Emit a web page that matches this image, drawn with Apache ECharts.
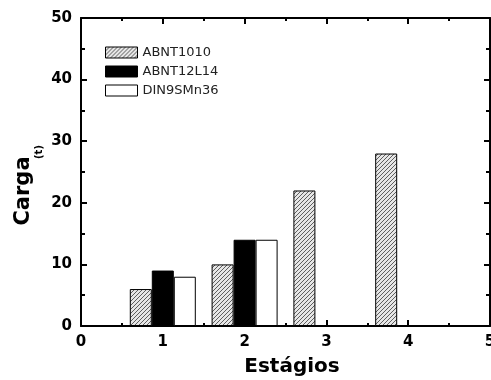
<!DOCTYPE html>
<html>
<head>
<meta charset="utf-8">
<script src="https://cdn.jsdelivr.net/npm/echarts@6/dist/echarts.min.js"></script>
<style>
html,body{margin:0;padding:0;background:#fff;}
#chart{width:491px;height:380px;}
</style>
</head>
<body>
<div id="chart"></div>
<script>
// Data
const stages = [1, 2, 3, 4];
const seriesNames = ['ABNT1010', 'ABNT12L14', 'DIN9SMn36'];
const abnt1010 = [6, 10, 22, 28];
const abnt12l14 = [9, 14, null, null];
const din9smn36 = [8, 14, null, null];
const xTickValues = [0, 1, 2, 3, 4, 5];
const yTickValues = [0, 10, 20, 30, 40, 50];

function hatch() {
  const c = document.createElement('canvas');
  c.width = 4; c.height = 4;
  const g = c.getContext('2d');
  g.fillStyle = '#e6e6e6';
  g.fillRect(0, 0, 4, 4);
  g.fillStyle = '#5e5e5e';
  g.fillRect(3, 0, 1, 1);
  g.fillRect(2, 1, 1, 1);
  g.fillRect(1, 2, 1, 1);
  g.fillRect(0, 3, 1, 1);
  return { image: c, repeat: 'repeat' };
}

const toPairs = vals => stages.map((s, i) => [s, vals[i]]);
const fills = [hatch(), '#000000', '#ffffff'];
const allVals = [abnt1010, abnt12l14, din9smn36];

const labelFont = { fontFamily: 'DejaVu Sans', fontWeight: 'bold', fontSize: 15, color: '#000' };
const axisLine = { show: true, onZero: false, lineStyle: { color: '#000', width: 2 } };

const chart = echarts.init(document.getElementById('chart'), null, { renderer: 'canvas' });
chart.setOption({
  animation: false,
  backgroundColor: '#fff',
  grid: { left: 81, right: 1, top: 18, bottom: 54, containLabel: false, outerBoundsMode: 'none' },
  legend: {
    data: seriesNames,
    orient: 'vertical',
    left: 105,
    top: 46,
    padding: 0,
    itemWidth: 32,
    itemHeight: 11,
    itemGap: 6,
    icon: 'rect',
    itemStyle: { borderColor: '#000', borderWidth: 1 },
    textStyle: { fontFamily: 'DejaVu Sans', fontSize: 13, color: '#222', lineHeight: 11 }
  },
  xAxis: [{
    type: 'value', min: xTickValues[0], max: xTickValues[xTickValues.length - 1], interval: 1,
    position: 'bottom',
    axisLine: axisLine,
    axisTick: { show: true, inside: true, length: 6, lineStyle: { color: '#000', width: 2 } },
    minorTick: { show: true, splitNumber: 2, length: 3, lineStyle: { color: '#000', width: 2 } },
    splitLine: { show: false },
    axisLabel: Object.assign({ margin: 9 }, labelFont)
  }, {
    type: 'value', min: xTickValues[0], max: xTickValues[xTickValues.length - 1], interval: 1,
    position: 'top',
    axisLine: axisLine,
    axisTick: { show: true, inside: true, length: 6, lineStyle: { color: '#000', width: 2 } },
    minorTick: { show: true, splitNumber: 2, length: 3, lineStyle: { color: '#000', width: 2 } },
    splitLine: { show: false },
    axisLabel: { show: false }
  }],
  yAxis: [{
    type: 'value', min: yTickValues[0], max: yTickValues[yTickValues.length - 1], interval: 10,
    position: 'left',
    axisLine: axisLine,
    axisTick: { show: true, inside: true, length: 6, lineStyle: { color: '#000', width: 2 } },
    minorTick: { show: true, splitNumber: 2, length: 4, lineStyle: { color: '#000', width: 2 } },
    splitLine: { show: false },
    axisLabel: Object.assign({ margin: 9 }, labelFont)
  }, {
    type: 'value', min: yTickValues[0], max: yTickValues[yTickValues.length - 1], interval: 10,
    position: 'right',
    axisLine: axisLine,
    axisTick: { show: true, inside: true, length: 6, lineStyle: { color: '#000', width: 2 } },
    minorTick: { show: true, splitNumber: 2, length: 4, lineStyle: { color: '#000', width: 2 } },
    splitLine: { show: false },
    axisLabel: { show: false }
  }],
  series: seriesNames.map((name, i) => ({
    name: name,
    type: 'bar',
    xAxisIndex: 0,
    yAxisIndex: 0,
    barWidth: 22,
    barGap: '0%',
    data: toPairs(allVals[i]),
    itemStyle: { color: fills[i], borderColor: '#000', borderWidth: 1 }
  })),
  graphic: [{
    type: 'text', x: 292, y: 367,
    style: { text: 'Estágios', fontFamily: 'DejaVu Sans', fontWeight: 'bold', fontSize: 20, fill: '#000', textAlign: 'center', textVerticalAlign: 'middle' }
  }, {
    type: 'text', x: 24, y: 191, rotation: Math.PI / 2,
    style: { text: 'Carga', fontFamily: 'DejaVu Sans', fontWeight: 'bold', fontSize: 21, fill: '#000', textAlign: 'center', textVerticalAlign: 'middle' }
  }, {
    type: 'text', x: 39, y: 152, rotation: Math.PI / 2,
    style: { text: '(t)', fontFamily: 'DejaVu Sans', fontWeight: 'bold', fontSize: 10, fill: '#000', textAlign: 'center', textVerticalAlign: 'middle' }
  }]
});
</script>
</body>
</html>
